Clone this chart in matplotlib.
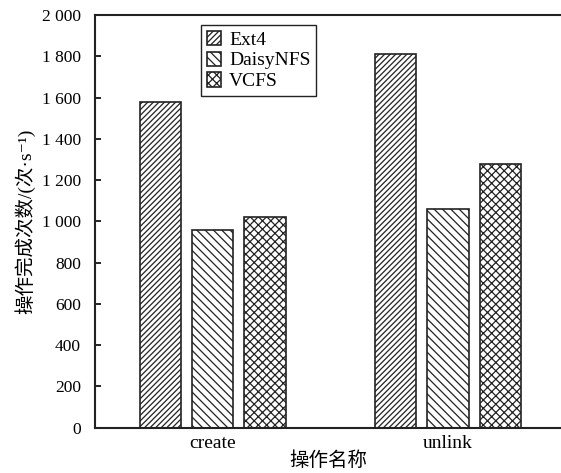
import matplotlib
matplotlib.use("Agg")
import matplotlib.pyplot as plt
import numpy as np

# Data
operations = ["create", "unlink"]
systems = ["Ext4", "DaisyNFS", "VCFS"]
ext4 = [1580, 1810]
daisynfs = [960, 1060]
vcfs = [1020, 1280]
yticks = [0, 200, 400, 600, 800, 1000, 1200, 1400, 1600, 1800, 2000]

series = [ext4, daisynfs, vcfs]
hatches = ["//////", "\\\\\\\\", "xxxx"]

SERIF = ["Liberation Serif", "Noto Sans CJK SC", "DejaVu Sans"]
CJK = ["Noto Sans CJK SC", "Liberation Serif", "DejaVu Sans"]

plt.rcParams["font.family"] = SERIF
plt.rcParams["hatch.linewidth"] = 0.9
plt.rcParams["hatch.color"] = "#222222"

fig = plt.figure(figsize=(5.61, 4.73), dpi=100)
ax = fig.add_axes([95 / 561, 45.3 / 473, (561 - 95) / 561, (427.7 - 15) / 473])

x = np.arange(len(operations))
step = 0.222
width = 0.176
for i, (vals, h, name) in enumerate(zip(series, hatches, systems)):
    ax.bar(x + (i - 1) * step, vals, width, facecolor="white", edgecolor="#222222",
           linewidth=1.2, hatch=h, label=name, zorder=2)

ax.set_xlim(-0.5, 1.48)
ax.set_ylim(0, 2000)
ax.set_xticks(x)
ax.set_xticklabels(operations, fontsize=14)
ax.set_yticks(yticks)
ax.set_yticklabels([f"{v:,}".replace(",", " ") for v in yticks], fontsize=12.5)
ax.tick_params(axis="y", direction="in", length=4, width=1.2, pad=10)
ax.tick_params(axis="x", length=0, pad=5)

for side in ["left", "bottom", "top"]:
    ax.spines[side].set_linewidth(1.5)
    ax.spines[side].set_color("#222222")
ax.spines["right"].set_visible(False)

ax.set_ylabel("操作完成次数/(次·s⁻¹)", family=SERIF, fontsize=14, labelpad=5)
ax.set_xlabel("操作名称", family=CJK, fontsize=14, fontweight="medium", labelpad=-1)

leg = ax.legend(loc="upper left", bbox_to_anchor=(0.227, 0.976), borderaxespad=0,
                fancybox=False, edgecolor="#222222", framealpha=1, fontsize=14,
                handlelength=0.75, handleheight=0.75, handletextpad=0.4,
                labelspacing=0.15, borderpad=0.3)
leg.get_frame().set_linewidth(1.0)

fig.savefig("out.png", dpi=100)
